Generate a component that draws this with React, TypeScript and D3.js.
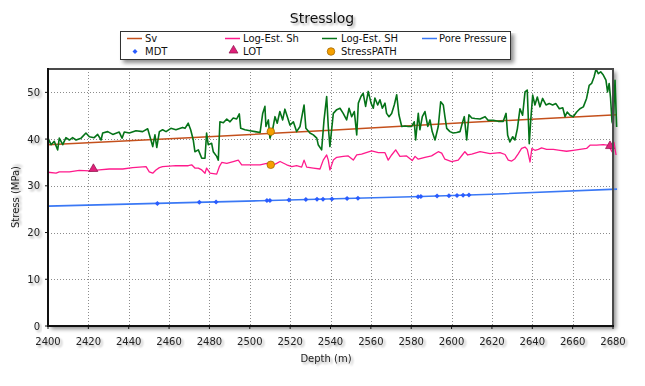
import React from "react";
import * as d3 from "d3";

const depthTicks = [2400, 2420, 2440, 2460, 2480, 2500, 2520, 2540, 2560, 2580, 2600, 2620, 2640, 2660, 2680];
const stressTicks = [0, 10, 20, 30, 40, 50];

const sv: [number, number][] = [[2400, 38.8], [2470, 40.3], [2540, 41.9], [2610, 43.6], [2682, 45.2]];
const porePressure: [number, number][] = [[2400, 25.65], [2505, 26.8], [2585, 27.7], [2620, 28.2], [2682, 29.3]];

const logEstSh: [number, number][] = [
  [2400, 32.9], [2404, 32.7], [2405.6, 33.0], [2410.6, 33.0], [2415.5, 33.3], [2420.5, 33.2], [2425.4, 33.4],
  [2430.4, 33.6], [2437, 33.6], [2442, 33.9], [2448.6, 34.1], [2450.2, 33.0], [2451.9, 32.7], [2453.5, 33.4],
  [2455.2, 33.9], [2456.8, 34.1], [2463.4, 34.3], [2469.5, 34.3], [2471.2, 34.5], [2472.8, 33.8], [2474.5, 33.8],
  [2476.2, 33.4], [2477.8, 32.7], [2478.6, 33.8], [2480.3, 32.7], [2483.6, 32.5], [2484.9, 34.1], [2486.1, 35.0],
  [2488.6, 34.8], [2491.8, 35.2], [2494.3, 35.5], [2496, 34.5], [2500.1, 34.5], [2505.1, 34.5], [2508.4, 34.8],
  [2510.9, 34.3], [2513.3, 34.8], [2515, 35.2], [2518.3, 34.5], [2520.8, 34.1], [2523.2, 34.3], [2525.7, 34.0],
  [2526.9, 35.5], [2528.2, 34.0], [2531.5, 33.8], [2534.8, 33.6], [2536.4, 35.5], [2538.1, 36.6], [2538.9, 35.5],
  [2539.7, 33.4], [2541.4, 35.5], [2543.1, 36.1], [2546.3, 36.3], [2548.8, 36.4], [2551.3, 35.5], [2553, 36.6],
  [2555.4, 36.8], [2560.4, 37.5], [2563.7, 37.1], [2567, 37.1], [2568.6, 35.5], [2570.3, 36.6], [2572.3, 37.7],
  [2574.4, 36.3], [2577.7, 36.4], [2580.5, 35.4], [2581.9, 36.3], [2583.5, 35.7], [2586.8, 36.1], [2590.1, 36.4],
  [2593.4, 37.3], [2595.1, 37.0], [2596.7, 35.7], [2600, 35.2], [2603.3, 35.5], [2605.3, 36.6], [2606.6, 37.3],
  [2608, 36.6], [2610, 36.8], [2614.1, 37.3], [2619.1, 36.9], [2624, 37.1], [2626.5, 36.7], [2628.1, 35.5],
  [2629.8, 35.3], [2631.4, 35.8], [2633.1, 36.9], [2634.7, 38.0], [2636.4, 38.3], [2637.5, 37.8], [2638.9, 35.1],
  [2639.8, 38.0], [2641.3, 37.6], [2643, 37.8], [2644.6, 38.1], [2647.1, 37.8], [2650.4, 37.8], [2653.7, 37.6],
  [2657, 37.4], [2660.3, 37.6], [2663.6, 37.8], [2666.9, 38.0], [2668.6, 38.7], [2671.9, 38.7], [2675.2, 38.8],
  [2677.2, 38.7], [2678.5, 38.1], [2679.5, 37.3], [2680.5, 39.3], [2681.5, 36.6],
];

const logEstSH: [number, number][] = [
  [2400, 40.2], [2401.5, 38.8], [2403.1, 39.5], [2404.8, 37.7], [2405.6, 40.2], [2407.3, 38.8], [2408.9, 40.3],
  [2410.6, 39.8], [2412.2, 40.3], [2413.9, 39.8], [2416.4, 40.2], [2418.8, 41.3], [2420.5, 40.5], [2422.9, 40.3],
  [2424.6, 41.0], [2426.3, 39.8], [2427.1, 41.3], [2429.6, 41.6], [2432.1, 41.0], [2435.3, 41.5], [2436.7, 40.2],
  [2437.8, 41.5], [2440.3, 41.3], [2443.6, 41.8], [2446.9, 41.6], [2449.4, 42.2], [2451, 39.8], [2451.9, 38.4],
  [2453, 40.9], [2453.9, 38.2], [2455.2, 41.6], [2456.8, 42.0], [2458.5, 41.6], [2460.9, 42.3], [2463.4, 42.0],
  [2466.7, 42.5], [2467.9, 42.3], [2469.5, 43.4], [2470.7, 42.0], [2472, 39.8], [2472.8, 37.3], [2474.5, 37.7],
  [2476.2, 35.9], [2477.8, 35.9], [2478.6, 41.3], [2479.4, 38.8], [2481.1, 39.1], [2481.9, 37.3], [2483.6, 36.3],
  [2484.4, 35.5], [2485.2, 43.7], [2486.9, 43.5], [2488.6, 44.3], [2490.2, 43.7], [2491.8, 44.5], [2493.5, 44.3],
  [2494.8, 45.4], [2495.5, 42.3], [2497.6, 42.0], [2500.1, 41.8], [2502.6, 41.6], [2505.1, 41.4], [2506.4, 45.5],
  [2507.5, 47.0], [2508, 42.7], [2509.2, 44.1], [2510, 40.2], [2511.3, 42.0], [2512.5, 44.8], [2513.6, 43.4],
  [2514.9, 45.9], [2516.3, 44.1], [2517.4, 46.4], [2518.6, 44.8], [2519.9, 43.0], [2521.6, 43.7], [2523.2, 41.6],
  [2524.9, 42.7], [2526.9, 47.3], [2527.8, 42.3], [2529.8, 41.3], [2531.5, 40.9], [2533.2, 40.2], [2533.9, 38.8],
  [2535.6, 37.7], [2536.8, 44.1], [2538.1, 49.1], [2538.9, 42.7], [2539.7, 38.4], [2541.4, 45.5], [2543.1, 46.3],
  [2544.7, 46.6], [2546.3, 45.5], [2548, 44.1], [2549.2, 46.6], [2550.5, 44.8], [2551.8, 45.9], [2553, 40.9],
  [2553.8, 47.7], [2555.1, 49.1], [2556.2, 49.8], [2557.4, 47.0], [2558.7, 50.2], [2560.1, 47.7], [2561.2, 46.6],
  [2562, 48.8], [2563.4, 47.3], [2564.5, 48.4], [2565.7, 46.6], [2567, 47.7], [2567.8, 45.5], [2569, 44.8],
  [2570.3, 45.5], [2571.6, 47.3], [2572.8, 49.5], [2573.9, 45.2], [2575.3, 42.7], [2576.9, 42.8], [2578.5, 42.7],
  [2580.2, 42.7], [2581.5, 43.7], [2582.2, 39.8], [2583.5, 45.5], [2584.3, 42.0], [2585.5, 44.8], [2586.8, 45.9],
  [2588.2, 42.7], [2589.3, 44.1], [2590.4, 41.6], [2591.8, 39.8], [2593.4, 42.7], [2594.6, 48.0], [2595.9, 47.3],
  [2596.7, 44.8], [2597.6, 42.3], [2599.2, 41.6], [2600.8, 41.3], [2602.5, 41.4], [2604.2, 41.6], [2605.3, 43.4],
  [2606.3, 44.8], [2607.5, 39.8], [2608.6, 45.2], [2610, 44.5], [2611.6, 44.4], [2614.1, 44.3], [2616.6, 44.8],
  [2618.2, 44.0], [2620.7, 44.0], [2623.1, 43.8], [2625.6, 43.8], [2627, 45.5], [2627.8, 40.8], [2628.9, 39.4],
  [2630.3, 40.5], [2631.4, 39.8], [2632.6, 42.2], [2633.9, 46.5], [2635.2, 45.1], [2636.4, 50.1], [2637.5, 50.5],
  [2638.5, 39.0], [2639.3, 44.4], [2640.2, 49.4], [2641.3, 47.3], [2642.5, 49.0], [2643.8, 46.9], [2645.1, 48.7],
  [2646.8, 47.3], [2648.4, 47.6], [2650.1, 47.3], [2651.7, 47.6], [2653.4, 46.5], [2655.1, 46.7], [2656.2, 44.8],
  [2657.3, 45.8], [2658.7, 45.1], [2660.3, 44.8], [2662, 45.8], [2663.6, 46.5], [2665.3, 46.9], [2666.9, 48.7],
  [2668.2, 51.5], [2669.4, 51.9], [2670.6, 53.3], [2671.6, 55.0], [2672.7, 54.0], [2673.9, 54.4], [2675.2, 53.7],
  [2676.5, 52.6], [2677.3, 50.1], [2678.1, 51.9], [2678.8, 48.7], [2679.5, 43.7], [2680.1, 43.0], [2681, 52.6],
  [2681.8, 42.6],
];

const mdt: [number, number][] = [
  [2454.2, 26.24], [2475, 26.47], [2483.3, 26.56], [2508.5, 26.84], [2510, 26.86], [2519.4, 26.96],
  [2527.8, 27.06], [2533.3, 27.12], [2536.3, 27.15], [2540.7, 27.2], [2548.2, 27.29], [2553.6, 27.35],
  [2583.4, 27.68], [2584.8, 27.7], [2592.8, 27.81], [2598.7, 27.9], [2602.7, 27.95], [2605.7, 28.0], [2608.6, 28.04],
];
const lot: [number, number][] = [[2422.5, 33.4], [2678.5, 38.3]];
const stressPath: [number, number][] = [[2510.4, 41.6], [2510.4, 34.5]];

const C_SV = "#c4501c";
const C_SH_LOW = "#ff1a8c";
const C_SH_HIGH = "#057318";
const C_PP = "#3a78f5";
const C_MDT = "#2a5cff";
const C_LOT = "#e0207a";
const C_SP = "#f5a000";
const FONT = "'DejaVu Sans', Verdana, sans-serif";

export default function App() {
  const W = 645, H = 386;
  const x = d3.scaleLinear().domain([2400, 2680]).range([48, 613]);
  const y = d3.scaleLinear().domain([0, 55]).range([326, 69]);
  const line = d3.line<[number, number]>().x(d => x(d[0])).y(d => y(d[1]));
  const diamond = d3.symbol().type(d3.symbolDiamond2).size(16)()!;
  const tri = d3.symbol().type(d3.symbolTriangle).size(34)()!;

  const legendRow1 = [
    { label: "Sv", color: C_SV, lx: 127, tx: 145 },
    { label: "Log-Est. Sh", color: C_SH_LOW, lx: 225, tx: 243 },
    { label: "Log-Est. SH", color: C_SH_HIGH, lx: 322, tx: 341 },
    { label: "Pore Pressure", color: C_PP, lx: 422, tx: 439 },
  ];

  const [x0, x1] = x.range();
  const [yb, yt] = y.range();

  return (
    <svg width={W} height={H} style={{ position: "absolute", left: 0, top: 0, background: "#fff" }}>
      <defs>
        <filter id="ts" x="-20%" y="-40%" width="150%" height="200%">
          <feGaussianBlur in="SourceAlpha" stdDeviation="1.2" />
          <feOffset dx="1.5" dy="2" result="ob" />
          <feComponentTransfer><feFuncA type="linear" slope="0.35" /></feComponentTransfer>
          <feMerge><feMergeNode /><feMergeNode in="SourceGraphic" /></feMerge>
        </filter>
        <filter id="bs" x="-5%" y="-5%" width="115%" height="130%">
          <feGaussianBlur in="SourceAlpha" stdDeviation="2" />
          <feOffset dx="3" dy="3" />
          <feComponentTransfer><feFuncA type="linear" slope="0.45" /></feComponentTransfer>
          <feMerge><feMergeNode /><feMergeNode in="SourceGraphic" /></feMerge>
        </filter>
      </defs>

      <text x={322} y={23} textAnchor="middle" fontFamily={FONT} fontSize={14} fill="#111" filter="url(#ts)">Stresslog</text>

      {/* plot area background with shadow */}
      <rect x={x0} y={yt} width={x1 - x0} height={yb - yt} fill="#fff" filter="url(#bs)" />

      {/* grid */}
      <g stroke="#8c8c8c" strokeWidth={1} strokeDasharray="1 2">
        {depthTicks.slice(1, -1).map(t => (
          <line key={"gx" + t} x1={Math.round(x(t)) + 0.5} x2={Math.round(x(t)) + 0.5} y1={yt} y2={yb} />
        ))}
        {stressTicks.slice(1).map(t => (
          <line key={"gy" + t} x1={x0} x2={x1} y1={Math.round(y(t)) + 0.5} y2={Math.round(y(t)) + 0.5} />
        ))}
      </g>

      {/* series */}
      <path d={line(sv)!} fill="none" stroke={C_SV} strokeWidth={1.5} />
      <path d={line(porePressure)!} fill="none" stroke={C_PP} strokeWidth={1.6} />
      <path d={line(logEstSh)!} fill="none" stroke={C_SH_LOW} strokeWidth={1.3} strokeLinejoin="round" />
      <path d={line(logEstSH)!} fill="none" stroke={C_SH_HIGH} strokeWidth={1.6} strokeLinejoin="round" />

      {mdt.map((p, i) => (
        <path key={"m" + i} d={diamond} transform={`translate(${x(p[0])},${y(p[1])})`} fill={C_MDT} />
      ))}
      {lot.map((p, i) => (
        <path key={"l" + i} d={tri} transform={`translate(${x(p[0])},${y(p[1]) - 1})`} fill={C_LOT} stroke="#8a1048" strokeWidth={0.7} />
      ))}
      {stressPath.map((p, i) => (
        <circle key={"s" + i} cx={x(p[0])} cy={y(p[1])} r={3.8} fill={C_SP} stroke="#9a6000" strokeWidth={0.7} />
      ))}

      {/* frame */}
      <line x1={x0} x2={x1 + 1} y1={yt} y2={yt} stroke="#4a4a4a" strokeWidth={2} />
      <line x1={x1} x2={x1} y1={yt} y2={yb} stroke="#4a4a4a" strokeWidth={2} />
      <line x1={x0} x2={x0} y1={yt - 1} y2={yb + 1} stroke="#111" strokeWidth={2} />
      <line x1={x0 - 1} x2={x1 + 1} y1={yb} y2={yb} stroke="#111" strokeWidth={2} />

      {/* x axis ticks and labels */}
      <g>
        {depthTicks.map(t => (
          <g key={"xt" + t}>
            <line x1={x(t)} x2={x(t)} y1={yb} y2={yb + 3} stroke="#111" strokeWidth={1} />
            <text x={x(t)} y={345} textAnchor="middle" fontFamily={FONT} fontSize={10} fill="#222" filter="url(#ts)">{t}</text>
          </g>
        ))}
      </g>
      {/* y axis ticks and labels */}
      <g>
        {stressTicks.map(t => (
          <g key={"yt" + t}>
            <line x1={x0 - 3} x2={x0} y1={y(t)} y2={y(t)} stroke="#111" strokeWidth={1} />
            <text x={40} y={y(t) + 3.6} textAnchor="end" fontFamily={FONT} fontSize={10} fill="#222" filter="url(#ts)">{t}</text>
          </g>
        ))}
      </g>

      <text x={326} y={362} textAnchor="middle" fontFamily={FONT} fontSize={10} fill="#222" filter="url(#ts)">Depth (m)</text>
      <text transform="translate(19,197) rotate(-90)" textAnchor="middle" fontFamily={FONT} fontSize={10} fill="#222" filter="url(#ts)">Stress (MPa)</text>

      {/* legend */}
      <rect x={120.5} y={31.5} width={390} height={28} fill="#fff" stroke="#333" strokeWidth={1} filter="url(#bs)" />
      {legendRow1.map(it => (
        <g key={it.label}>
          <line x1={it.lx} x2={it.lx + 15} y1={38.5} y2={38.5} stroke={it.color} strokeWidth={1.5} />
          <text x={it.tx} y={42} fontFamily={FONT} fontSize={10} fill="#111">{it.label}</text>
        </g>
      ))}
      <path d={diamond} transform="translate(135,51.5)" fill={C_MDT} />
      <text x={145} y={55.3} fontFamily={FONT} fontSize={10} fill="#111">MDT</text>
      <path d={tri} transform="translate(233.5,50.5)" fill={C_LOT} stroke="#8a1048" strokeWidth={0.7} />
      <text x={243} y={55.3} fontFamily={FONT} fontSize={10} fill="#111">LOT</text>
      <circle cx={331} cy={51.5} r={3.8} fill={C_SP} stroke="#9a6000" strokeWidth={0.7} />
      <text x={341} y={55.3} fontFamily={FONT} fontSize={10} fill="#111">StressPATH</text>
    </svg>
  );
}
